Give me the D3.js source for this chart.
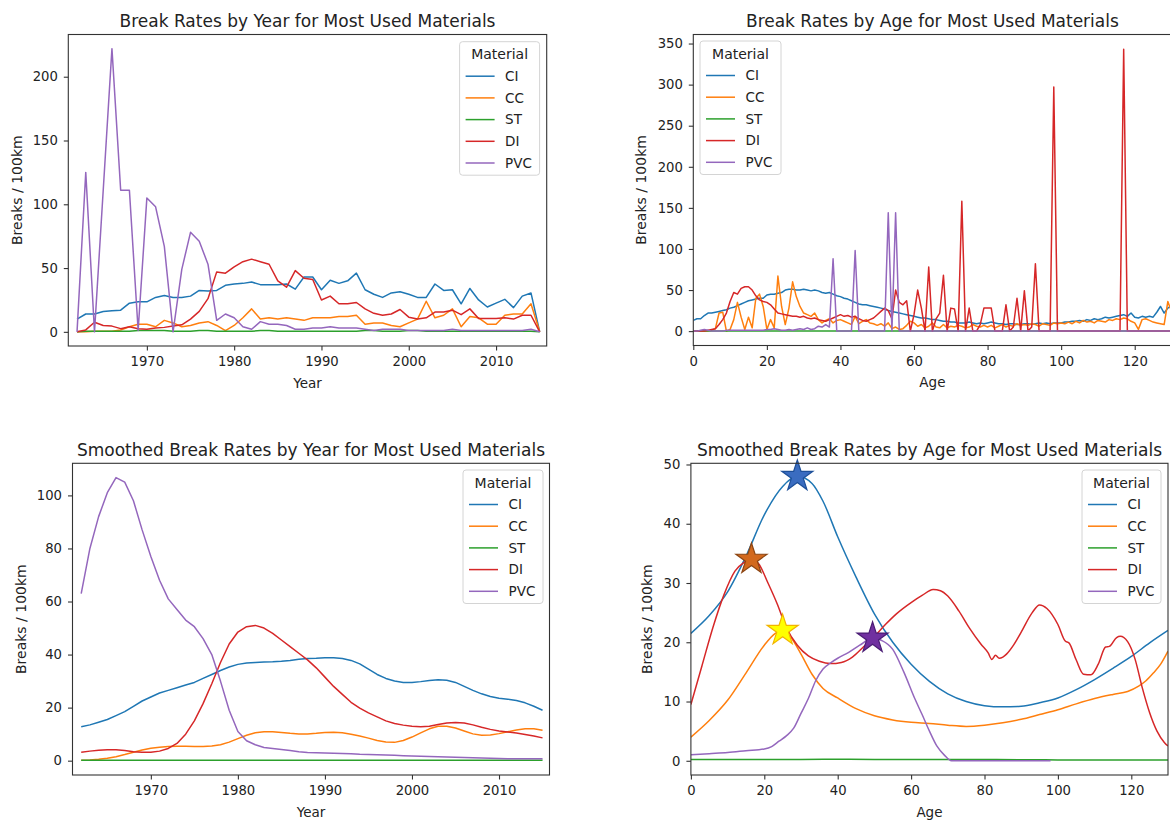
<!DOCTYPE html>
<html>
<head>
<meta charset="utf-8">
<script src="https://cdn.jsdelivr.net/npm/d3@7"></script>
<style>
  body { margin: 0; background: #fff; }
  svg { display: block; font-family: "DejaVu Sans", sans-serif; }
</style>
</head>
<body>
<svg id="chart" width="1170" height="821"></svg>
<script>
// ---------- data ----------
const materials = ["CI", "CC", "ST", "DI", "PVC"];
const colors = ["#1f77b4", "#ff7f0e", "#2ca02c", "#d62728", "#9467bd"];

// install years 1962..2015
const years = d3.range(1962, 2016);

// raw break rates by year
const yearCI = [10, 14, 14, 16, 16.5, 17, 22.5, 23.5,
  23.5, 27, 28.5, 27, 27, 28, 32.5, 32, 32.5, 36.5,
  37.5, 38, 39, 37, 37, 37, 37.5, 33.5, 43, 43,
  33, 40.5, 38, 40, 46, 33, 29.5, 27, 30.5, 31.5,
  29.5, 27, 27, 37.5, 32.5, 33, 22, 34, 25, 19.5,
  22.5, 25.5, 19, 28, 30.5, 0];
const yearCC = [0, 0, 0.5, 0.5, 0.5, 1.5, 4, 6,
  6, 4, 9, 7, 4, 5, 7, 8, 5, 1,
  5, 11, 18, 10, 11, 10, 11, 10, 9, 11,
  11, 11, 12, 12, 13, 6, 7, 7, 5, 4,
  7, 10, 24, 11, 13, 18, 4, 12, 11, 6,
  6, 13, 14, 14, 22, 0];
const yearST = [0, 0.5, 0.5, 0.5, 0.5, 0.5, 0.5, 1,
  1, 1, 1, 0.5, 0.5, 0.5, 1, 1, 0.5, 0.5,
  0.5, 0.5, 0.5, 1, 1, 0.5, 0.5, 0.5, 0.5, 0.5,
  0.5, 0.5, 0.5, 0.5, 0.5, 1, 1, 0.5, 0.5, 0.5,
  1, 1, 0.5, 0.5, 0.5, 0.5, 0.5, 0.5, 0.5, 0.5,
  0.5, 0.5, 0.5, 0.5, 0.5, 0];
const yearDI = [0, 1.5, 7.5, 5, 4.5, 2.5, 4, 2.5,
  2, 3, 3.5, 4.5, 5.5, 10, 16, 26, 47, 46,
  51, 55, 57, 55, 53, 40, 35, 48, 42, 41,
  25, 28, 22, 22, 23, 18, 14.5, 13, 14, 17.5,
  11.5, 10, 11, 15.5, 15.5, 17, 13.5, 18, 10.5, 10.5,
  10.5, 11, 10, 13, 13, 0];
const yearPVC = [0, 125, 0, 111, 222, 111, 111, 1,
  105, 98, 67, 0, 49, 78, 71, 53, 9, 14,
  11, 4, 2, 8, 6, 6, 5, 2, 2, 3,
  3, 4, 3, 3, 3, 2, 1, 2, 2, 2,
  1, 1, 1, 1, 1, 2, 1, 1, 1, 1,
  1, 1, 1, 1, 2, 0];

// smoothed break rates by year
const smYearCI = [12.8, 13.5, 14.5, 15.5, 17, 18.5, 20.5, 22.5,
  24, 25.5, 26.5, 27.5, 28.5, 29.5, 31, 32.5, 34, 35.3,
  36.3, 36.8, 37, 37.2, 37.3, 37.5, 37.8, 38.2, 38.5, 38.6,
  38.8, 38.8, 38.5, 37.8, 36.5, 34.5, 32.5, 31, 30, 29.5,
  29.5, 29.8, 30.2, 30.5, 30.3, 29.5, 28, 26.5, 25.2, 24.2,
  23.5, 23.2, 22.7, 21.8, 20.5, 19];
const smYearCC = [0.2, 0.3, 0.5, 0.9, 1.5, 2.3, 3.2, 4,
  4.7, 5.1, 5.3, 5.4, 5.4, 5.3, 5.3, 5.5, 6, 7,
  8.3, 9.6, 10.5, 10.9, 10.9, 10.6, 10.3, 10.1, 10.1, 10.3,
  10.6, 10.7, 10.5, 10, 9.3, 8.5, 7.6, 7, 6.9, 7.6,
  8.9, 10.5, 12, 13, 13, 12.3, 11.2, 10.1, 9.6, 9.7,
  10.2, 10.9, 11.6, 12, 12, 11.5];
const smYearST = [0.2, 0.2, 0.2, 0.2, 0.2, 0.2, 0.2, 0.2,
  0.2, 0.2, 0.2, 0.2, 0.2, 0.2, 0.2, 0.2, 0.2, 0.2,
  0.2, 0.2, 0.2, 0.2, 0.2, 0.2, 0.2, 0.2, 0.2, 0.2,
  0.2, 0.2, 0.2, 0.2, 0.2, 0.2, 0.2, 0.2, 0.2, 0.2,
  0.2, 0.2, 0.2, 0.2, 0.2, 0.2, 0.2, 0.2, 0.2, 0.2,
  0.2, 0.2, 0.2, 0.2, 0.2, 0.2];
const smYearDI = [3.2, 3.6, 3.9, 4.1, 4.1, 3.8, 3.4, 3.2,
  3.2, 3.6, 4.6, 6.5, 10, 15, 21.5, 29, 37, 44,
  48.5, 50.5, 51, 50, 48, 45.5, 43, 40.5, 38, 35,
  31.5, 28, 25, 22, 19.8, 18, 16.5, 15, 14, 13.4,
  13, 12.8, 13, 13.6, 14.2, 14.4, 14.2, 13.5, 12.6, 11.8,
  11.2, 10.8, 10.4, 9.9, 9.3, 8.6];
const smYearPVC = [63, 80, 92, 101, 106.7, 105, 98, 87,
  77, 68, 61, 57, 53, 50.5, 46, 40, 30, 19,
  11, 7.5, 6, 5, 4.6, 4.2, 3.8, 3.4, 3.1, 3,
  2.9, 2.8, 2.7, 2.6, 2.4, 2.3, 2.2, 2.1, 2, 1.9,
  1.8, 1.7, 1.6, 1.5, 1.4, 1.3, 1.2, 1.1, 1, 0.9,
  0.8, 0.7, 0.7, 0.7, 0.7, 0.7];

// pipe ages 0..130
const ages = d3.range(0, 131);

// raw break rates by age
const ageCI = [13, 15, 15, 19, 22, 22, 23, 24, 25, 26,
  28, 29, 31, 33, 35, 37, 38, 39, 40, 40,
  44, 45, 45, 46, 47, 50, 51, 51, 50, 50,
  51, 50, 49, 50, 49, 47, 46, 47, 45, 43,
  42, 40, 39, 37, 35, 33, 32, 32, 31, 30,
  29, 28, 27, 25, 24, 23, 22, 21, 20, 19,
  18, 17, 16, 16, 15, 14, 14, 13, 12, 12,
  11, 11, 10, 10, 10, 11, 10, 9, 10, 9,
  10, 11, 10, 9, 9, 8, 9, 9, 8, 8,
  9, 9, 8, 9, 10, 9, 10, 9, 10, 10,
  10, 11, 11, 12, 12, 13, 12, 14, 13, 15,
  14, 15, 17, 16, 17, 18, 19, 20, 18, 22,
  17, 16, 18, 17, 18, 17, 23, 30, 22, 28,
  31];
const ageCC = [0, 0, 0, 0, 0, 1, 3, 22, 23, 0,
  2, 14, 35, 17, 2, 17, 4, 40, 45, 30,
  2, 14, 4, 67, 30, 8, 28, 60, 42, 30,
  22, 20, 18, 22, 14, 10, 13, 15, 10, 13,
  14, 12, 10, 8, 18, 9, 12, 14, 10, 9,
  7, 9, 6, 10, 3, 5, 2, 3, 7, 12,
  10, 6, 8, 4, 6, 10, 5, 4, 8, 4,
  6, 5, 7, 6, 4, 5, 8, 6, 5, 7,
  5, 7, 4, 6, 8, 5, 7, 6, 9, 7,
  8, 7, 9, 8, 6, 9, 8, 7, 10, 9,
  10, 9, 11, 9, 12, 10, 13, 11, 12, 10,
  13, 12, 11, 14, 13, 15, 14, 16, 15, 12,
  10, 2, 14, 15, 13, 11, 10, 9, 8, 36,
  24];
const ageST = [0, 0, 0, 0, 0, 0, 0, 0, 0, 0,
  0, 0, 0, 0, 0, 0, 0, 0, 0, 0,
  0, 0, 0, 0, 0, 0, 0, 0, 0, 0,
  0, 0, 0, 0, 0, 0, 0, 0, 0, 0,
  0, 0, 0, 0, 0, 0, 0, 0, 0, 0,
  0, 0, 0, 0, 0, 0, 0, 0, 0, 0,
  0, 0, 0, 0, 0, 0, 0, 0, 0, 0,
  0, 0, 0, 0, 0, 0, 0, 0, 0, 0,
  0, 0, 0, 0, 0, 0, 0, 0, 0, 0,
  0, 0, 0, 0, 0, 0, 0, 0, 0, 0,
  0, 0, 0, 0, 0, 0, 0, 0, 0, 0,
  0, 0, 0, 0, 0, 0, 0, 0, 0, 0,
  0, 0, 0, 0, 0, 0, 0, 0, 0, 0,
  0];
const ageDI = [0, 0, 0, 0, 1, 2, 3, 8, 14, 22,
  36, 47, 45, 52, 54, 54, 50, 43, 38, 36,
  35, 32, 27, 22, 21, 20, 19, 18, 18, 17,
  18, 16, 15, 16, 14, 13, 12, 14, 16, 18,
  20, 18, 19, 17, 18, 15, 13, 12, 14, 16,
  20, 24, 28, 25, 15, 50, 35, 32, 37, 0,
  20, 50, 28, 0, 78, 0, 15, 22, 68, 0,
  28, 27, 0, 158, 0, 28, 0, 0, 8, 28,
  28, 28, 0, 0, 0, 32, 0, 5, 40, 0,
  49, 0, 5, 82, 0, 0, 0, 0, 297, 0,
  0, 0, 0, 0, 0, 0, 0, 0, 0, 0,
  0, 0, 0, 0, 0, 0, 0, 343, 0, 0,
  0, 0, 0, 0, 0, 0, 0, 0, 0, 0,
  0];
const agePVC = [0, 0, 1, 2, 1, 0, 0, 0, 0, 1,
  1, 1, 1, 1, 1, 1, 1, 1, 1, 1,
  2, 2, 3, 2, 1, 1, 2, 1, 2, 3,
  2, 4, 2, 3, 6, 5, 8, 5, 88, 0,
  0, 0, 0, 0, 98, 0, 0, 0, 0, 0,
  0, 0, 0, 144, 0, 144, 0, 0, 0, 0,
  0, 0, 0, 0, 0, 0, 0, 0, 0, 0,
  0, 0, 0, 0, 0, 0, 0, 0, 0, 0,
  0, 0, 0, 0, 0, 0, 0, 0, 0, 0,
  0, 0, 0, 0, 0, 0, 0, 0, 0, 0,
  0, 0, 0, 0, 0, 0, 0, 0, 0, 0,
  0, 0, 0, 0, 0, 0, 0, 0, 0, 0,
  0, 0, 0, 0, 0, 0, 0, 0, 0, 0,
  0];

// smoothed break rates by age (each with its own age grid)
const smAgeCIx = [0, 5, 10, 15, 20, 25, 29, 33, 36, 40, 45, 50, 55, 60, 65, 70, 75, 80, 85, 90, 95, 100, 105, 110, 115, 120, 125, 130];
const smAgeCI = [21.5, 24.5, 28.5, 34.5, 41.5, 46.3, 48, 46.8, 43.8, 37.8, 31, 24.8, 20, 16.3, 13.4, 11.3, 10, 9.3, 9.1, 9.2, 9.8, 10.6, 12, 13.7, 15.6, 17.6, 19.9, 22];
const smAgeCCx = [0, 5, 10, 15, 20, 23, 25, 27, 30, 33, 36, 40, 45, 50, 55, 60, 65, 70, 75, 80, 85, 90, 95, 100, 105, 110, 115, 119, 122, 124, 126, 128, 130];
const smAgeCC = [4, 6.8, 10.2, 14.8, 19.5, 21.5, 22, 21, 18, 14.6, 12.2, 10.6, 8.8, 7.6, 6.9, 6.5, 6.3, 6, 5.8, 6, 6.4, 7, 7.8, 8.6, 9.6, 10.5, 11.2, 11.7, 12.6, 13.5, 14.8, 16.3, 18.5];
const smAgeSTx = [0, 20, 40, 60, 80, 100, 120, 130];
const smAgeST = [0.2, 0.2, 0.25, 0.2, 0.2, 0.15, 0.15, 0.15];
const smAgeDIx = [0, 3, 6, 9, 12, 14.5, 16.5, 18.5, 21, 23.5, 26, 29, 32, 35, 38, 41, 44, 47, 50, 53, 56, 60, 63, 66, 68, 70, 73, 76, 79, 81, 82, 83, 84, 85, 86, 88, 90, 93, 95, 97, 100, 102, 103, 105, 107, 109, 111, 113, 114, 116, 117, 119, 121, 123, 125, 127, 129, 130];
const smAgeDI = [9.5, 16, 22.5, 28, 32, 33.5, 34, 33.2, 30, 26.5, 22.5, 19.5, 17.7, 16.8, 16.4, 16.6, 17.5, 19.2, 21, 23, 24.8, 26.7, 27.9, 28.9, 28.7, 27.8, 25.3, 22.3, 19.7, 18.2, 17.1, 17.8, 17.3, 17.5, 18, 19.6, 21.7, 25, 26.3, 25.7, 23, 20.2, 19.9, 17, 14.6, 14.5, 16.3, 19.2, 19.3, 20.8, 21, 20.1, 17.2, 12.3, 8.1, 5, 3.1, 2.5];
const smAgePVCx = [0, 5, 10, 15, 20, 22, 24, 26, 28, 30, 32, 34, 36, 38, 40, 43, 46, 49.5, 52, 55, 58, 61, 63, 65, 67, 69, 71, 75, 80, 85, 90, 95, 98];
const smAgePVC = [1, 1.2, 1.4, 1.7, 2, 2.4, 3.3, 4.2, 5.5, 8, 10.5, 13.5, 15.5, 16.5, 17.3, 18.3, 19.5, 20.7, 20.3, 18.8, 15, 10.5, 7.8, 5, 2.5, 1, 0, 0, 0, 0, 0, 0, 0];

// peak markers on the smoothed-by-age panel
const peakMaterials = ["CI", "DI", "CC", "PVC"];
const peakFill = ["#3a6cc0", "#d2691e", "#ffff00", "#7030a0"];
const peakEdge = ["#1d4f99", "#8b4513", "#f2b400", "#4a1d75"];

const yearTicks = [1970, 1980, 1990, 2000, 2010];
const ageTicks = [0, 20, 40, 60, 80, 100, 120];

// ---------- drawing ----------
const svg = d3.select("#chart");
svg.append("rect").attr("width", 1170).attr("height", 821).attr("fill", "#fff");
const defs = svg.append("defs");
const TEXT = "#222";

const panels = [
  {
    title: "Break Rates by Year for Most Used Materials",
    box: [68.3, 34.5, 546.7, 346], xDomain: [1961.0, 2015.8], yDomain: [-11.1, 233.1],
    xTicks: yearTicks, yTicks: [0, 50, 100, 150, 200], xLabel: "Year", yLabOff: 46.8,
    curve: d3.curveLinear, legend: [459.6, 41.7, 80],
    series: [[years, yearCI], [years, yearCC], [years, yearST], [years, yearDI], [years, yearPVC]]
  },
  {
    title: "Break Rates by Age for Most Used Materials",
    box: [693.3, 34.5, 1171.5, 345.5], xDomain: [0, 130], yDomain: [-17.5, 361],
    xTicks: ageTicks, yTicks: [0, 50, 100, 150, 200, 250, 300, 350], xLabel: "Age", yLabOff: 47.3,
    curve: d3.curveLinear, legend: [700, 41, 81],
    series: [[ages, ageCI], [ages, ageCC], [ages, ageST], [ages, ageDI], [ages, agePVC]]
  },
  {
    title: "Smoothed Break Rates by Year for Most Used Materials",
    box: [72.5, 463.3, 549.5, 775], xDomain: [1961.0, 2015.8], yDomain: [-5.4, 112.1],
    xTicks: yearTicks, yTicks: [0, 20, 40, 60, 80, 100], xLabel: "Year", yLabOff: 46.8,
    curve: d3.curveLinear, legend: [463, 470, 80],
    series: [[years, smYearCI], [years, smYearCC], [years, smYearST], [years, smYearDI], [years, smYearPVC]]
  },
  {
    title: "Smoothed Break Rates by Age for Most Used Materials",
    box: [690.9, 463.3, 1168, 775], xDomain: [0, 130], yDomain: [-2.4, 50.2],
    xTicks: ageTicks, yTicks: [0, 10, 20, 30, 40, 50], xLabel: "Age", yLabOff: 39,
    curve: d3.curveMonotoneX, legend: [1082, 470, 79], peaks: true,
    series: [[smAgeCIx, smAgeCI], [smAgeCCx, smAgeCC], [smAgeSTx, smAgeST], [smAgeDIx, smAgeDI], [smAgePVCx, smAgePVC]]
  }
];

panels.forEach((p, idx) => {
  const [x0, y0, x1, y1] = p.box;
  const x = d3.scaleLinear().domain(p.xDomain).range([x0, x1]);
  const y = d3.scaleLinear().domain(p.yDomain).range([y1, y0]);
  const g = svg.append("g");

  defs.append("clipPath").attr("id", "clip" + idx)
    .append("rect").attr("x", x0).attr("y", y0).attr("width", x1 - x0).attr("height", y1 - y0);

  // series lines
  const plot = g.append("g").attr("clip-path", `url(#clip${idx})`);
  const line = d3.line().x(d => x(d[0])).y(d => y(d[1])).curve(p.curve);
  p.series.forEach(([xs, vs], i) => {
    const pts = xs.map((xv, k) => [xv, vs[k]]);
    plot.append("path").datum(pts)
      .attr("fill", "none").attr("stroke", colors[i])
      .attr("stroke-width", 1.5).attr("stroke-linejoin", "round")
      .attr("d", line);
  });

  // peak stars
  if (p.peaks) {
    const star = d3.symbol().type(d3.symbolStar).size(300);
    peakMaterials.forEach((m, j) => {
      const [xs, vs] = p.series[materials.indexOf(m)];
      const k = d3.maxIndex(vs);
      g.append("path").attr("d", star())
        .attr("transform", `translate(${x(xs[k])},${y(vs[k])})`)
        .attr("fill", peakFill[j]).attr("stroke", peakEdge[j]).attr("stroke-width", 1.2);
    });
  }

  // axes
  const xAxis = g.append("g").attr("transform", `translate(0,${y1})`)
    .call(d3.axisBottom(x).tickValues(p.xTicks).tickSize(4.5).tickPadding(6.3).tickFormat(d3.format("d")));
  const yAxis = g.append("g").attr("transform", `translate(${x0},0)`)
    .call(d3.axisLeft(y).tickValues(p.yTicks).tickSize(4.5).tickPadding(6).tickFormat(d3.format("d")));
  [xAxis, yAxis].forEach(a => {
    a.select(".domain").remove();
    a.attr("font-family", null).attr("font-size", null);
    a.selectAll("line").attr("stroke", "#333").attr("stroke-width", 1.1);
    a.selectAll("text").attr("fill", TEXT).style("font-size", "13.2px");
  });

  // frame
  g.append("rect").attr("x", x0).attr("y", y0).attr("width", x1 - x0).attr("height", y1 - y0)
    .attr("fill", "none").attr("stroke", "#333").attr("stroke-width", 1.1);

  // titles and labels
  g.append("text").attr("x", (x0 + x1) / 2).attr("y", y0 - 7.8)
    .attr("text-anchor", "middle").attr("fill", TEXT).style("font-size", "17px").text(p.title);
  g.append("text").attr("x", (x0 + x1) / 2).attr("y", y1 + 41.5)
    .attr("text-anchor", "middle").attr("fill", TEXT).style("font-size", "13.5px").text(p.xLabel);
  g.append("text")
    .attr("transform", `translate(${x0 - p.yLabOff},${(y0 + y1) / 2}) rotate(-90)`)
    .attr("text-anchor", "middle").attr("fill", TEXT).style("font-size", "14px").text("Breaks / 100km");

  // legend
  const [lx, ly, lw] = p.legend;
  const lg = g.append("g").attr("transform", `translate(${lx},${ly})`);
  lg.append("rect").attr("width", lw).attr("height", 133.5).attr("rx", 3)
    .attr("fill", "#fff").attr("fill-opacity", 0.8).attr("stroke", "#d4d4d4").attr("stroke-width", 1);
  lg.append("text").attr("x", lw / 2).attr("y", 17.5).attr("text-anchor", "middle")
    .attr("fill", TEXT).style("font-size", "14px").text("Material");
  materials.forEach((m, i) => {
    const cy = 34.5 + i * 21.7;
    lg.append("line").attr("x1", 6).attr("x2", 35).attr("y1", cy).attr("y2", cy)
      .attr("stroke", colors[i]).attr("stroke-width", 1.5);
    lg.append("text").attr("x", 45.5).attr("y", cy + 4.7)
      .attr("fill", TEXT).style("font-size", "13.5px").text(m);
  });
});
</script>
</body>
</html>
